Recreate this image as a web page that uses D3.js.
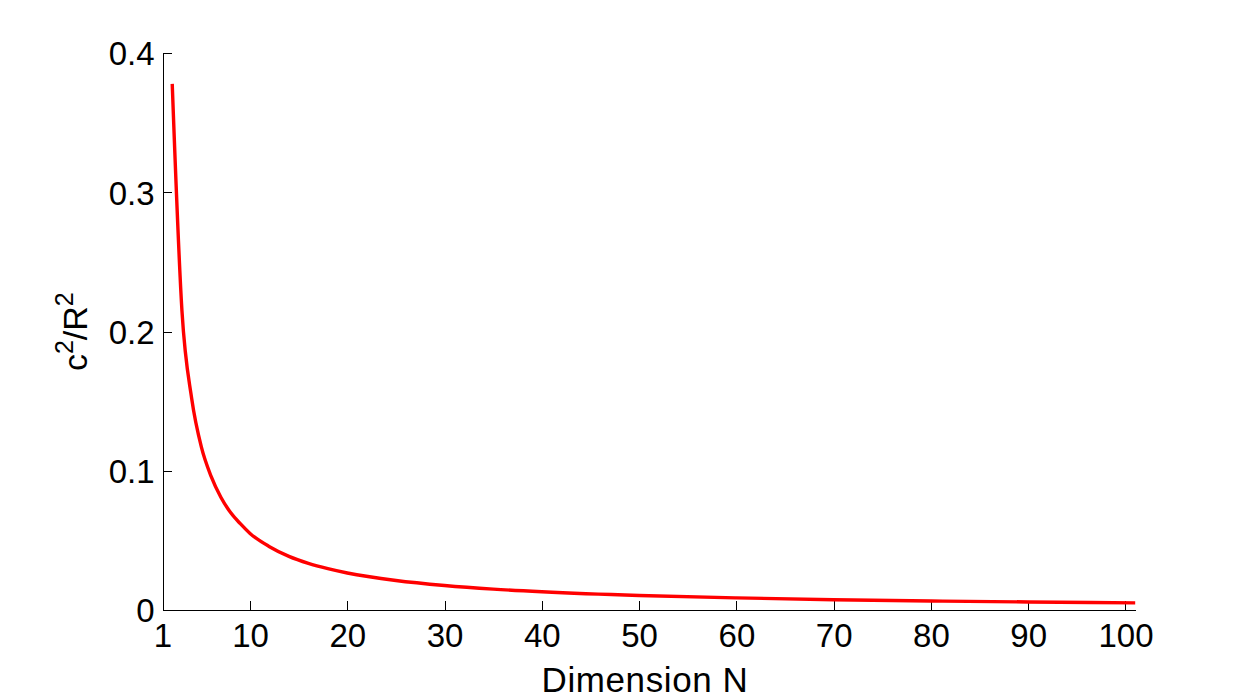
<!DOCTYPE html>
<html>
<head>
<meta charset="utf-8">
<script src="https://cdn.jsdelivr.net/npm/d3@7"></script>
<style>
  html, body { margin: 0; padding: 0; background: #ffffff; }
  svg { display: block; }
  text { font-family: "Liberation Sans", Arial, Helvetica, sans-serif; fill: #000; }
</style>
</head>
<body>
<svg id="chart" width="1254" height="700"></svg>
<script>
// Data
const dimensionN = [2, 3, 4, 5, 6, 7, 8, 9, 10, 12, 14, 16, 18, 20, 25, 30, 35, 40, 50, 60, 70, 80, 90, 101];
const ratioValues = [0.378, 0.215, 0.152, 0.117, 0.096, 0.081, 0.070, 0.062, 0.055, 0.0455, 0.0385, 0.0335, 0.0297, 0.0266, 0.0212, 0.0176, 0.0150, 0.0131, 0.0104, 0.0087, 0.0074, 0.0065, 0.0058, 0.0051];
const xTickValues = [1, 10, 20, 30, 40, 50, 60, 70, 80, 90, 100];
const yTickValues = [0, 0.1, 0.2, 0.3, 0.4];
const xDomain = [1, 101];
const yDomain = [0, 0.4];
const xLabelText = "Dimension N";

(function () {
const svg = d3.select("#chart");
const mLeft = 162.5, mRight = 1135.2, mTop = 53.3, mBottom = 610;

const x = d3.scaleLinear().domain(xDomain).range([mLeft, mRight]);
const y = d3.scaleLinear().domain(yDomain).range([mBottom, mTop]);

const data = dimensionN.map((n, i) => ({ n: n, v: ratioValues[i] }));

// Axes
const xAxis = d3.axisBottom(x)
  .tickValues(xTickValues)
  .tickFormat(d3.format("d"))
  .tickSizeInner(-9)
  .tickSizeOuter(0)
  .tickPadding(0);

const gx = svg.append("g").attr("transform", `translate(0,${mBottom})`).call(xAxis);
gx.select(".domain").attr("stroke", "#000").attr("stroke-width", 1).attr("shape-rendering", "crispEdges");
gx.selectAll(".tick line").attr("stroke", "#000").attr("shape-rendering", "crispEdges");
gx.selectAll(".tick text")
  .attr("y", 37).attr("dy", null)
  .style("font-size", "33px")
  .style("font-family", "'Liberation Sans', Arial, Helvetica, sans-serif")
  .attr("fill", "#000");

const yAxis = d3.axisLeft(y)
  .tickValues(yTickValues)
  .tickFormat(d => d === 0 ? "0" : d3.format(".1f")(d))
  .tickSizeInner(-9)
  .tickSizeOuter(0)
  .tickPadding(0);

const gy = svg.append("g").attr("transform", `translate(${mLeft},0)`).call(yAxis);
gy.select(".domain").attr("stroke", "#000").attr("stroke-width", 1).attr("shape-rendering", "crispEdges");
gy.selectAll(".tick line").attr("stroke", "#000").attr("shape-rendering", "crispEdges");
gy.selectAll(".tick text")
  .attr("x", -8).attr("dy", "0.35em")
  .style("font-size", "33px")
  .style("font-family", "'Liberation Sans', Arial, Helvetica, sans-serif")
  .attr("fill", "#000");

// Line
const line = d3.line()
  .x(d => x(d.n))
  .y(d => y(d.v))
  .curve(d3.curveMonotoneX);

svg.append("path")
  .datum(data)
  .attr("fill", "none")
  .attr("stroke", "#ff0000")
  .attr("stroke-width", 3.4)
  .attr("stroke-linejoin", "round")
  .attr("d", line);

// X label
svg.append("text")
  .attr("x", 645)
  .attr("y", 692)
  .attr("text-anchor", "middle")
  .style("font-size", "35px")
  .style("letter-spacing", "0.6px")
  .text(xLabelText);

// Y label: c^2/R^2
const yl = svg.append("text")
  .attr("transform", `translate(87,${(mTop + mBottom) / 2}) rotate(-90)`)
  .attr("text-anchor", "middle")
  .style("font-size", "34px");
yl.append("tspan").text("c");
yl.append("tspan").attr("dy", -14).style("font-size", "25px").text("2");
yl.append("tspan").attr("dy", 14).text("/R");
yl.append("tspan").attr("dy", -14).style("font-size", "25px").text("2");
})();
</script>
</body>
</html>
